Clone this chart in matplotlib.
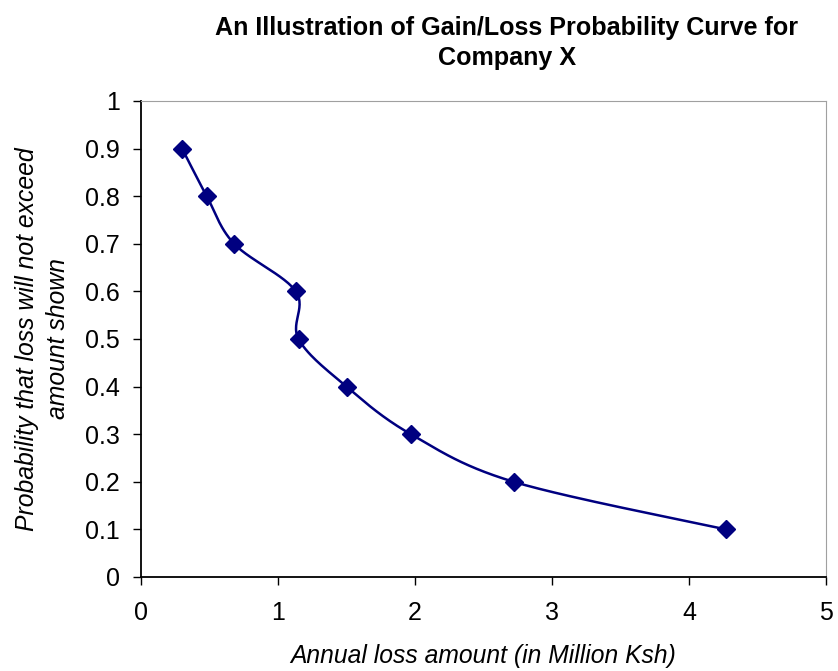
import numpy as np
import matplotlib
matplotlib.use("Agg")
import matplotlib.pyplot as plt

loss = [0.30, 0.48, 0.68, 1.13, 1.15, 1.50, 1.97, 2.72, 4.27]
prob = [0.9, 0.8, 0.7, 0.6, 0.5, 0.4, 0.3, 0.2, 0.1]
xticks = [0, 1, 2, 3, 4, 5]
yticks = [0, 0.1, 0.2, 0.3, 0.4, 0.5, 0.6, 0.7, 0.8, 0.9, 1]
ytick_labels = ["0", "0.1", "0.2", "0.3", "0.4", "0.5", "0.6", "0.7", "0.8", "0.9", "1"]

def smooth(xs, ys, n=30):
    P = np.column_stack([xs, ys])
    out = [P[0]]
    for i in range(len(P) - 1):
        p0 = P[i - 1] if i > 0 else P[i]
        p1 = P[i]
        p2 = P[i + 1]
        p3 = P[i + 2] if i + 2 < len(P) else P[i + 1]
        c1 = p1 + (p2 - p0) / 6
        c2 = p2 - (p3 - p1) / 6
        t = np.linspace(0, 1, n)[1:, None]
        seg = (1 - t) ** 3 * p1 + 3 * (1 - t) ** 2 * t * c1 + 3 * (1 - t) * t ** 2 * c2 + t ** 3 * p2
        out.extend(seg)
    out = np.array(out)
    return out[:, 0], out[:, 1]

plt.rcParams['font.family'] = ['Liberation Sans', 'DejaVu Sans']
W, H = 838, 671
fig = plt.figure(figsize=(W / 100, H / 100), dpi=100)
ax = fig.add_axes([141 / W, 1 - 577 / H, (826 - 141) / W, (577 - 101) / H])

sx, sy = smooth(loss, prob)
color = '#000080'
ax.plot(sx, sy, color=color, lw=1.8, zorder=2)
ax.plot(loss, prob, linestyle='none', marker='D', ms=9, color=color, zorder=3)

ax.set_xlim(0, 5)
ax.set_ylim(0, 1)
ax.set_xticks(xticks)
ax.set_yticks(yticks)
ax.set_yticklabels(ytick_labels)
ax.tick_params(labelsize=18, direction='out', length=6, width=1)
ax.tick_params(axis='x', pad=11)
ax.tick_params(axis='y', pad=9)
for s in ['top', 'right']:
    ax.spines[s].set_color('#a0a0a0')
for s in ['left', 'bottom']:
    ax.spines[s].set_color('black')
    ax.spines[s].set_linewidth(1.3)

ax.set_xlabel('Annual loss amount (in Million Ksh)', fontsize=17.7, style='italic', labelpad=14)
ax.set_ylabel('Probability that loss will not exceed\namount shown', fontsize=17.8, style='italic',
              labelpad=11, linespacing=1.35)
fig.text(507 / W, 1 - 43 / H, 'An Illustration of Gain/Loss Probability Curve for\nCompany X',
         fontsize=18.1, fontweight='bold', ha='center', va='center', multialignment='center',
         linespacing=1.36)

fig.savefig('out.png', dpi=100)
